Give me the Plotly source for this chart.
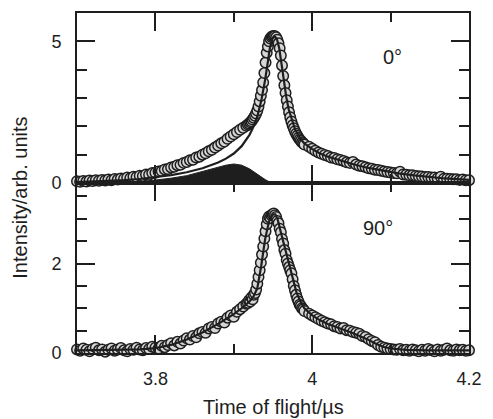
import plotly.graph_objects as go

# ---------------- data: 0 degree panel ----------------
x0_a = [3.700, 3.704, 3.708, 3.712, 3.716, 3.720, 3.724, 3.728, 3.732, 3.736,
        3.740, 3.744, 3.748, 3.752, 3.756, 3.760, 3.764, 3.768, 3.772, 3.776,
        3.780, 3.784, 3.788, 3.792, 3.796, 3.800, 3.804, 3.808, 3.812, 3.816,
        3.820, 3.824, 3.828, 3.832, 3.836, 3.840, 3.844, 3.848, 3.852, 3.856,
        3.860, 3.864, 3.868, 3.872, 3.876, 3.880, 3.884, 3.888, 3.892, 3.896,
        3.900, 3.904, 3.908, 3.912, 3.916]
y0_a = [0.06, 0.04, 0.07, 0.05, 0.09, 0.07, 0.10, 0.08, 0.11, 0.09,
        0.12, 0.10, 0.14, 0.12, 0.16, 0.15, 0.19, 0.17, 0.22, 0.21,
        0.26, 0.25, 0.30, 0.29, 0.35, 0.36, 0.41, 0.42, 0.48, 0.49,
        0.55, 0.57, 0.63, 0.64, 0.71, 0.74, 0.80, 0.82, 0.90, 0.93,
        1.00, 1.05, 1.12, 1.17, 1.25, 1.32, 1.40, 1.46, 1.56, 1.64,
        1.72, 1.80, 1.88, 1.95, 2.02]
x0_b = [3.9180, 3.9195, 3.9210, 3.9225, 3.9240, 3.9255, 3.9270, 3.9285, 3.9300, 3.9315,
        3.9330, 3.9345, 3.9360, 3.9375, 3.9390, 3.9405, 3.9420, 3.9435, 3.9450, 3.9465,
        3.9480, 3.9495, 3.9510, 3.9525, 3.9540, 3.9555, 3.9570, 3.9585, 3.9600, 3.9615,
        3.9630, 3.9645, 3.9660, 3.9675, 3.9690, 3.9705, 3.9720, 3.9735, 3.9750, 3.9765,
        3.9780, 3.9795, 3.9810, 3.9825, 3.9840, 3.9855, 3.9870, 3.9885, 3.9900]
y0_b = [2.06, 2.10, 2.14, 2.18, 2.24, 2.30, 2.37, 2.45, 2.56, 2.70,
        2.88, 3.08, 3.28, 3.55, 3.88, 4.25, 4.60, 4.82, 5.00, 5.10,
        5.15, 5.18, 5.19, 5.18, 5.14, 5.06, 4.93, 4.76, 4.50, 4.15,
        3.78, 3.45, 3.18, 2.92, 2.70, 2.50, 2.32, 2.17, 2.04, 1.93,
        1.83, 1.74, 1.67, 1.60, 1.54, 1.49, 1.44, 1.40, 1.36]
x0_c = [3.996, 4.000, 4.004, 4.008, 4.012, 4.016, 4.020, 4.024, 4.028, 4.032,
        4.036, 4.040, 4.044, 4.048, 4.052, 4.056, 4.060, 4.064, 4.068, 4.072,
        4.076, 4.080, 4.084, 4.088, 4.092, 4.096, 4.100, 4.104, 4.108, 4.112,
        4.116, 4.120, 4.124, 4.128, 4.132, 4.136, 4.140, 4.144, 4.148, 4.152,
        4.156, 4.160, 4.164, 4.168, 4.172, 4.176, 4.180, 4.184, 4.188, 4.192,
        4.196, 4.200]
y0_c = [1.28, 1.21, 1.14, 1.08, 1.03, 0.99, 0.95, 0.90, 0.88, 0.84,
        0.81, 0.78, 0.73, 0.71, 0.74, 0.65, 0.61, 0.59, 0.56, 0.52,
        0.50, 0.47, 0.46, 0.43, 0.41, 0.39, 0.37, 0.35, 0.34, 0.40,
        0.30, 0.29, 0.27, 0.27, 0.25, 0.24, 0.23, 0.21, 0.21, 0.19,
        0.19, 0.17, 0.22, 0.15, 0.15, 0.14, 0.13, 0.13, 0.11, 0.12,
        0.10, 0.10]

fit0_x = [3.70, 3.72, 3.74, 3.76, 3.78, 3.80, 3.82, 3.84, 3.86, 3.88, 3.89, 3.90,
          3.91, 3.92, 3.925, 3.93, 3.935, 3.94, 3.943, 3.946, 3.949, 3.952, 3.955,
          3.958, 3.961, 3.964, 3.967, 3.970, 3.974, 3.978, 3.985, 3.99, 4.00, 4.01,
          4.02, 4.03, 4.05, 4.07, 4.09, 4.11, 4.13, 4.15, 4.17, 4.20]
fit0_y = [0.03, 0.05, 0.07, 0.10, 0.14, 0.20, 0.28, 0.38, 0.52, 0.72, 0.86, 1.04,
          1.30, 1.70, 1.98, 2.35, 2.90, 3.65, 4.25, 4.75, 5.08, 5.18, 5.08,
          4.75, 4.18, 3.55, 3.02, 2.60, 2.20, 1.90, 1.55, 1.40, 1.20, 1.04,
          0.93, 0.84, 0.68, 0.54, 0.43, 0.34, 0.27, 0.21, 0.16, 0.11]

comp0_x = [3.70, 3.77, 3.78, 3.80, 3.82, 3.84, 3.86, 3.88, 3.89, 3.90, 3.91, 3.92,
           3.93, 3.94, 3.948, 4.20]
comp0_y = [0.00, 0.00, 0.04, 0.10, 0.17, 0.26, 0.40, 0.56, 0.63, 0.67, 0.63, 0.50,
           0.30, 0.12, 0.00, 0.00]

# ---------------- data: 90 degree panel ----------------
y90_a = [0.08, 0.05, 0.10, 0.07, 0.04, 0.09, 0.12, 0.06, 0.08, 0.03,
         0.07, 0.10, 0.05, 0.08, 0.11, 0.06, 0.04, 0.09, 0.07, 0.12,
         0.08, 0.06, 0.11, 0.09, 0.14, 0.12, 0.10, 0.16, 0.13, 0.18,
         0.22, 0.17, 0.25, 0.21, 0.28, 0.33, 0.30, 0.38, 0.35, 0.44,
         0.47, 0.45, 0.55, 0.58, 0.56, 0.66, 0.70, 0.68, 0.79, 0.84,
         0.81, 0.92, 0.98, 1.04, 1.10]
y90_b = [1.12, 1.18, 1.15, 1.24, 1.20, 1.30, 1.34, 1.42, 1.55, 1.70,
         1.85, 2.02, 2.20, 2.38, 2.56, 2.72, 2.88, 3.00, 3.05, 3.02,
         3.08, 3.10, 3.12, 3.08, 3.04, 2.95, 2.90, 2.78, 2.70, 2.55,
         2.45, 2.30, 2.22, 2.08, 2.00, 1.92, 1.85, 1.78, 1.65, 1.50,
         1.40, 1.30, 1.22, 1.15, 1.08, 1.05, 1.00, 0.98, 0.94]
y90_c = [0.88, 0.84, 0.80, 0.76, 0.72, 0.69, 0.66, 0.64, 0.60, 0.58,
         0.55, 0.56, 0.51, 0.50, 0.47, 0.45, 0.43, 0.38, 0.36, 0.31,
         0.27, 0.24, 0.18, 0.14, 0.12, 0.10, 0.09, 0.08, 0.07, 0.09,
         0.06, 0.07, 0.05, 0.08, 0.06, 0.04, 0.07, 0.05, 0.09, 0.06,
         0.04, 0.08, 0.05, 0.07, 0.10, 0.06, 0.05, 0.08, 0.06, 0.07,
         0.05, 0.06]

fit90_x = [3.70, 3.75, 3.78, 3.80, 3.82, 3.84, 3.86, 3.88, 3.90, 3.91, 3.92, 3.925,
           3.93, 3.935, 3.94, 3.945, 3.95, 3.953, 3.956, 3.96, 3.965, 3.97, 3.975,
           3.98, 3.985, 3.99, 4.00, 4.01, 4.02, 4.03, 4.04, 4.05, 4.06, 4.07, 4.08,
           4.09, 4.10, 4.12, 4.15, 4.20]
fit90_y = [0.06, 0.07, 0.08, 0.11, 0.18, 0.30, 0.46, 0.65, 0.87, 1.00, 1.15, 1.26,
           1.45, 1.95, 2.55, 2.95, 3.10, 3.10, 2.98, 2.70, 2.35, 2.00, 1.65,
           1.35, 1.15, 1.00, 0.84, 0.73, 0.65, 0.58, 0.52, 0.46, 0.39, 0.31, 0.22,
           0.14, 0.10, 0.07, 0.06, 0.06]

x_ticks_major = [3.8, 4.0, 4.2]
x_tick_text = ["3.8", "4", "4.2"]
label0 = "0°"
label90 = "90°"
x_title = "Time of flight/µs"
y_title = "Intensity/arb. units"

# ---------------- figure ----------------
FONT = "Liberation Sans, Arial, Helvetica, sans-serif"
INK = "#1e1e1e"
x0 = x0_a + x0_b + x0_c
y0 = y0_a + y0_b + y0_c
x90 = x0_a + x0_b + x0_c
y90 = y90_a + y90_b + y90_c

marker = dict(size=10.5, color="#d6d6d6", line=dict(color=INK, width=1.5))

fig = go.Figure()
fig.add_trace(go.Scatter(x=comp0_x, y=comp0_y, mode="lines", fill="tozeroy",
                         fillcolor=INK, line=dict(color=INK, width=1),
                         xaxis="x", yaxis="y", hoverinfo="skip"))
fig.add_trace(go.Scatter(x=x0, y=y0, mode="markers", marker=marker,
                         cliponaxis=False, xaxis="x", yaxis="y"))
fig.add_trace(go.Scatter(x=fit0_x, y=fit0_y, mode="lines",
                         line=dict(color=INK, width=2.2), xaxis="x", yaxis="y"))
fig.add_trace(go.Scatter(x=x90, y=y90, mode="markers", marker=marker,
                         cliponaxis=False, xaxis="x2", yaxis="y2"))
fig.add_trace(go.Scatter(x=fit90_x, y=fit90_y, mode="lines",
                         line=dict(color=INK, width=2.2), xaxis="x2", yaxis="y2"))

common = dict(showline=True, linecolor=INK, linewidth=2, mirror="ticks",
              ticks="inside", ticklen=18, tickwidth=2, tickcolor=INK,
              showgrid=False, zeroline=False,
              tickfont=dict(family=FONT, size=18, color=INK))

fig.update_layout(
    width=493, height=419,
    margin=dict(l=77, r=12, t=11, b=66),
    paper_bgcolor="white", plot_bgcolor="white",
    showlegend=False,
    xaxis=dict(domain=[0, 1], anchor="y", range=[3.7, 4.2],
               tickvals=x_ticks_major, showticklabels=False,
               minor=dict(dtick=0.1, tick0=3.7, ticklen=9, tickwidth=2,
                          tickcolor=INK, ticks="inside"),
               **common),
    xaxis2=dict(domain=[0, 1], anchor="y2", range=[3.7, 4.2],
                tickvals=x_ticks_major, ticktext=x_tick_text,
                ticklabelstandoff=8,
                minor=dict(dtick=0.1, tick0=3.7, ticklen=9, tickwidth=2,
                           tickcolor=INK, ticks="inside"),
                **common),
    yaxis=dict(domain=[0.5, 1], anchor="x", range=[0, 6],
               tickvals=[0, 5], ticklabelstandoff=10,
               minor=dict(dtick=1, tick0=0, ticklen=10, tickwidth=2,
                          tickcolor=INK, ticks="inside"),
               **common),
    yaxis2=dict(domain=[0, 0.5], anchor="x2", range=[0, 3.8],
                tickvals=[0, 2], ticklabelstandoff=10,
                minor=dict(dtick=0.5, tick0=0, ticklen=10, tickwidth=2,
                           tickcolor=INK, ticks="inside"),
                **common),
    annotations=[
        dict(text=label0, x=0.804, y=0.871, xref="paper", yref="paper",
             xanchor="center", yanchor="middle",
             showarrow=False, font=dict(family=FONT, size=20, color=INK)),
        dict(text=label90, x=0.767, y=0.368, xref="paper", yref="paper",
             xanchor="center", yanchor="middle",
             showarrow=False, font=dict(family=FONT, size=20, color=INK)),
        dict(text=x_title, x=0.502, y=-0.158, xref="paper", yref="paper",
             showarrow=False, xanchor="center", yanchor="middle",
             font=dict(family=FONT, size=20, color=INK)),
        dict(text=y_title, x=-0.146, y=0.456, xref="paper", yref="paper",
             showarrow=False, textangle=-90, xanchor="center", yanchor="middle",
             font=dict(family=FONT, size=20, color=INK)),
    ],
)

fig.write_html("out.html", config={"displayModeBar": False},
               post_script="document.body.style.margin='0';document.body.style.overflow='hidden';")
